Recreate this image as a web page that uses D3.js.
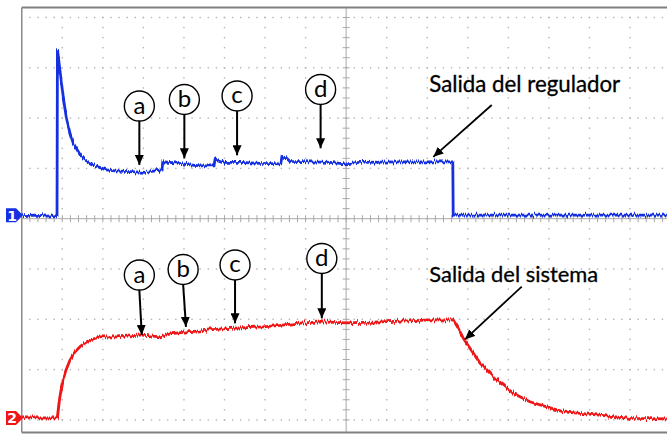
<!DOCTYPE html>
<html>
<head>
<meta charset="utf-8">
<script src="https://cdn.jsdelivr.net/npm/d3@7"></script>
<style>
  body { margin: 0; background: #fff; }
  svg { display: block; }
</style>
</head>
<body>
<div id="viz"></div>
<script>
// scope screen in divisions: 16 across, 8 tall (center = 0)
let width = 667, height = 435

// channel 1 - salida del regulador (time div, volt div)
let ch1T = [0, 0.33, 0.6, 0.87, 0.88, 0.94, 1.02, 1.11, 1.19, 1.27, 1.44, 1.56, 1.68, 1.88, 2.09, 2.30, 2.55,
            2.79, 3.04, 3.29, 3.46, 3.48, 3.78, 4.15, 4.40, 4.74, 4.77, 5.01, 5.38, 5.88, 6.39, 6.42, 6.52,
            6.61, 7.11, 7.60, 7.97, 8.34, 9.33, 10.31, 10.63, 10.64, 11.79, 13.27, 14.75, 15.91]
let ch1V = [0.06, 0.07, 0.05, 0.06, 3.37, 2.96, 2.43, 1.96, 1.70, 1.50, 1.27, 1.17, 1.11, 1.03, 0.97, 0.95, 0.94,
            0.93, 0.92, 0.95, 0.97, 1.13, 1.11, 1.07, 1.05, 1.05, 1.19, 1.12, 1.12, 1.10, 1.09, 1.23, 1.21,
            1.14, 1.13, 1.12, 1.09, 1.12, 1.13, 1.13, 1.13, 0.07, 0.07, 0.07, 0.07, 0.07]

// channel 2 - salida del sistema
let ch2T = [0, 0.45, 0.88, 0.93, 0.97, 1.02, 1.09, 1.19, 1.31, 1.44, 1.56, 1.68, 1.93, 2.34, 2.67, 2.92, 3.16,
            3.41, 3.66, 4.07, 4.40, 4.77, 5.14, 5.95, 6.37, 6.78, 7.36, 8.01, 8.83, 9.57, 10.07, 10.64, 10.76,
            10.89, 11.05, 11.30, 11.71, 12.12, 12.53, 12.95, 13.36, 13.77, 14.18, 15.00, 15.91]
let ch2V = [-3.96, -3.96, -3.96, -3.60, -3.40, -3.20, -3.01, -2.81, -2.65, -2.54, -2.47, -2.41, -2.35, -2.35, -2.33, -2.31, -2.33,
            -2.35, -2.29, -2.25, -2.23, -2.20, -2.18, -2.15, -2.12, -2.08, -2.05, -2.07, -2.05, -2.03, -2.01, -2.01, -2.17,
            -2.38, -2.57, -2.87, -3.20, -3.47, -3.64, -3.74, -3.84, -3.87, -3.90, -3.97, -3.98]

// ground markers
let groundV = [0.07, -3.96]
let groundLabels = ["1", "2"]

// lettered marks
let markLetters = ["a", "b", "c", "d"]
let topMarkT = [2.90, 4.01, 5.31, 7.37]
let topMarkV = [2.24, 2.37, 2.44, 2.57]
let topTipV = [1.07, 1.20, 1.26, 1.40]
let botMarkT = [2.90, 3.98, 5.26, 7.40]
let botMarkV = [-1.12, -1.01, -0.92, -0.79]
let botTipT = [2.96, 4.05, 5.26, 7.40]
let botTipV = [-2.31, -2.15, -2.08, -1.98]

// trace labels
let labelText = ["Salida del regulador", "Salida del sistema"]
let labelT = [10.05, 10.05]
let labelV = [2.52, -1.26]
let labelArrowFrom = [[11.59, 2.26], [12.33, -1.35]]
let labelArrowTo = [[10.15, 1.23], [10.93, -2.40]]

let svg = d3.select("#viz")
  .append("svg")
    .attr("width", width)
    .attr("height", height)

// scales
let xScale = d3.scaleLinear().domain([0, 16]).range([21.75, 670.55])
let yScale = d3.scaleLinear().domain([-4, 4]).range([419.9, 17.5])

let defs = svg.append("defs")
defs.append("marker")
    .attr("id", "head")
    .attr("markerUnits", "userSpaceOnUse")
    .attr("markerWidth", 11).attr("markerHeight", 9)
    .attr("refX", 10).attr("refY", 4.5)
    .attr("orient", "auto")
  .append("path")
    .attr("d", "M0,0 L10,4.5 L0,9 Z")
    .attr("fill", "#000")

// jitter so the traces look like scope noise
let filt = defs.append("filter")
    .attr("id", "noise")
    .attr("x", "-5%").attr("y", "-20%").attr("width", "110%").attr("height", "140%")
    .attr("color-interpolation-filters", "sRGB")
filt.append("feTurbulence")
    .attr("type", "fractalNoise").attr("baseFrequency", "0.9 0.02")
    .attr("numOctaves", 1).attr("seed", 4).attr("result", "t")
filt.append("feColorMatrix")
    .attr("in", "t").attr("type", "matrix")
    .attr("values", "0 0 0 0 0.5  0 1 0 0 0  0 0 1 0 0  0 0 0 0 1")
    .attr("result", "m")
filt.append("feDisplacementMap")
    .attr("in", "SourceGraphic").attr("in2", "m")
    .attr("scale", 7).attr("xChannelSelector", "R").attr("yChannelSelector", "G")

// grid dots
let minorX = d3.range(1, 16 * 5).map(i => i / 5)
let minorY = d3.range(-4 * 5, 4 * 5 + 1).map(i => i / 5)
let rows = d3.range(-4, 5).filter(d => d != 0)
let cols = d3.range(1, 16).filter(d => d != 8)

let grid = svg.append("g").attr("fill", "#b4b4b4")
rows.forEach(r => {
  grid.selectAll(null)
    .data(minorX)
    .join("rect")
      .attr("x", d => xScale(d) - 0.7)
      .attr("y", yScale(r) - 0.7)
      .attr("width", 1.4).attr("height", 1.4)
})
cols.forEach(c => {
  grid.selectAll(null)
    .data(minorY)
    .join("rect")
      .attr("x", xScale(c) - 0.7)
      .attr("y", d => yScale(d) - 0.7)
      .attr("width", 1.4).attr("height", 1.4)
})

// center axes with ticks
let axes = svg.append("g").attr("stroke", "#a8a8a8").attr("stroke-width", 1)
axes.append("line")
    .attr("x1", xScale(0)).attr("x2", xScale(16))
    .attr("y1", yScale(0)).attr("y2", yScale(0))
axes.append("line")
    .attr("x1", xScale(8)).attr("x2", xScale(8))
    .attr("y1", yScale(4.2)).attr("y2", yScale(-4.25))
axes.selectAll(".xt")
  .data(minorX)
  .join("line")
    .attr("x1", d => xScale(d)).attr("x2", d => xScale(d))
    .attr("y1", yScale(0) - 3.5).attr("y2", yScale(0) + 3.5)
axes.selectAll(".yt")
  .data(minorY)
  .join("line")
    .attr("x1", xScale(8) - 3.5).attr("x2", xScale(8) + 3.5)
    .attr("y1", d => yScale(d)).attr("y2", d => yScale(d))

// frame
svg.append("line")
    .attr("x1", xScale(0)).attr("x2", width)
    .attr("y1", yScale(4.2)).attr("y2", yScale(4.2))
    .attr("stroke", "#808080").attr("stroke-width", 2)
svg.append("line")
    .attr("x1", xScale(0)).attr("x2", width)
    .attr("y1", yScale(-4.25)).attr("y2", yScale(-4.25))
    .attr("stroke", "#808080").attr("stroke-width", 2)
svg.append("line")
    .attr("x1", xScale(0)).attr("x2", xScale(0))
    .attr("y1", yScale(4.2)).attr("y2", yScale(-4.25))
    .attr("stroke", "#8a8a8a").attr("stroke-width", 1.5)

// traces
let line = d3.line()
    .x(d => xScale(d[0]))
    .y(d => yScale(d[1]))

svg.append("path")
    .datum(d3.zip(ch1T, ch1V))
    .attr("d", line)
    .attr("fill", "none")
    .attr("stroke", "#1530e0")
    .attr("stroke-width", 2.8)
    .attr("filter", "url(#noise)")

svg.append("path")
    .datum(d3.zip(ch2T, ch2V))
    .attr("d", line)
    .attr("fill", "none")
    .attr("stroke", "#ee1616")
    .attr("stroke-width", 2.8)
    .attr("filter", "url(#noise)")

// ground markers
let gColors = ["#1530e0", "#ee1616"]
groundV.forEach((v, i) => {
  let cy = yScale(v)
  svg.append("path")
      .attr("d", `M6,${cy - 7} H16 L23,${cy} L16,${cy + 7} H6 Z`)
      .attr("fill", gColors[i])
  svg.append("text")
      .attr("x", 12).attr("y", cy + 5.5)
      .attr("text-anchor", "middle")
      .attr("font-family", "DejaVu Sans")
      .attr("font-weight", "bold")
      .attr("font-size", 14)
      .attr("fill", "#fff")
      .text(groundLabels[i])
})

// lettered marks
let R = 15
function drawMarks(ts, vs, tipTs, tipVs) {
  let g = svg.append("g")
  markLetters.forEach((l, i) => {
    let cx = xScale(ts[i]), cy = yScale(vs[i])
    g.append("line")
        .attr("x1", cx).attr("y1", cy + R)
        .attr("x2", xScale(tipTs[i])).attr("y2", yScale(tipVs[i]))
        .attr("stroke", "#000").attr("stroke-width", 2)
        .attr("marker-end", "url(#head)")
    g.append("circle")
        .attr("cx", cx).attr("cy", cy).attr("r", R)
        .attr("fill", "#fff").attr("stroke", "#000").attr("stroke-width", 1.4)
    g.append("text")
        .attr("x", cx).attr("y", cy + 7.5)
        .attr("text-anchor", "middle")
        .attr("font-family", "Lato, 'Open Sans', sans-serif")
        .attr("font-size", 24)
        .text(l)
  })
}
drawMarks(topMarkT, topMarkV, topMarkT, topTipV)
drawMarks(botMarkT, botMarkV, botTipT, botTipV)

// trace labels
let labelW = [191, 169]
labelText.forEach((t, i) => {
  let txt = svg.append("text")
      .attr("x", xScale(labelT[i])).attr("y", yScale(labelV[i]))
      .attr("font-family", "Lato, 'Open Sans', sans-serif")
      .attr("font-size", 21)
      .attr("fill", "#000")
      .attr("stroke", "#000").attr("stroke-width", 0.3)
      .text(t)
  let len = txt.node().getComputedTextLength()
  txt.attr("font-size", 21 * labelW[i] / len)
  svg.append("line")
      .attr("x1", xScale(labelArrowFrom[i][0])).attr("y1", yScale(labelArrowFrom[i][1]))
      .attr("x2", xScale(labelArrowTo[i][0])).attr("y2", yScale(labelArrowTo[i][1]))
      .attr("stroke", "#000").attr("stroke-width", 1.8)
      .attr("marker-end", "url(#head)")
})
</script>
</body>
</html>
